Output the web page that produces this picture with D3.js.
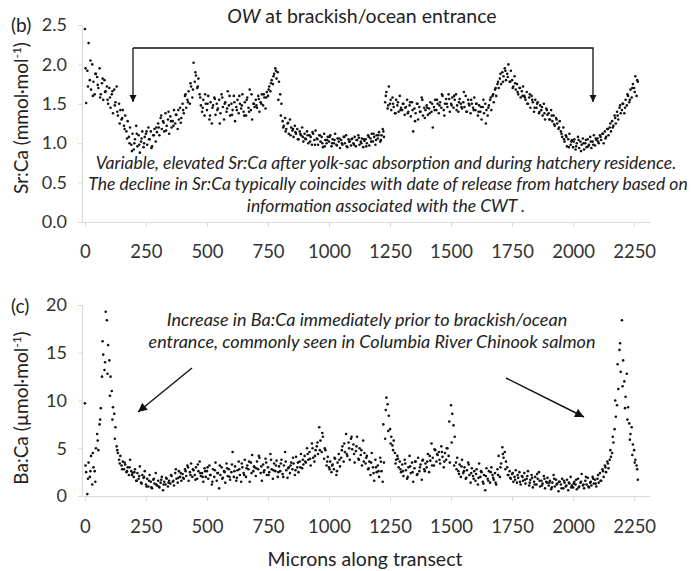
<!DOCTYPE html>
<html><head><meta charset="utf-8">
<script src="https://cdn.jsdelivr.net/npm/d3@7"></script>
<style>body{margin:0;background:#fff}text{font-family:Lato,"Open Sans",sans-serif}</style>
</head><body>
<svg id="c" width="694" height="571"></svg>
<script>
// Sample spacing along the transect (microns)
const sampleStep = 5;      // primary series: 0, 5, 10, ...
const sampleStep2 = 10;    // secondary replicate series: 2.5, 12.5, 22.5, ...
const sampleStart2 = 2.5;
const xTicks = [0,250,500,750,1000,1250,1500,1750,2000,2250];
const srTicks = [0,0.5,1.0,1.5,2.0,2.5];
const baTicks = [0,5,10,15,20];
// Sr:Ca (mmol/mol)
const srCa = [
2.45,1.51,1.92,2.27,1.8,1.68,2.0,1.78,1.62,1.88,
1.84,1.7,1.95,1.62,1.76,1.55,1.8,1.66,1.72,1.5,
1.7,1.45,1.62,1.38,1.68,1.52,1.72,1.35,1.5,1.42,
1.3,1.42,1.22,1.35,1.15,1.28,1.08,1.2,0.98,1.12,
0.92,1.05,1.22,0.96,1.1,0.88,1.02,1.15,0.95,1.08,
1.12,0.98,1.2,1.05,1.15,0.96,1.1,1.18,1.02,1.14,
1.25,1.1,1.32,1.18,1.28,1.15,1.38,1.22,1.3,1.12,
1.34,1.2,1.28,1.42,1.25,1.36,1.18,1.3,1.45,1.32,
1.5,1.38,1.6,1.45,1.55,1.66,1.5,1.72,1.58,2.02,
1.78,1.86,1.7,1.82,1.62,1.48,1.4,1.55,1.35,1.5,
1.42,1.6,1.3,1.52,1.25,1.48,1.58,1.36,1.5,1.44,
1.55,1.38,1.62,1.46,1.3,1.52,1.4,1.66,1.48,1.35,
1.5,1.42,1.6,1.28,1.46,1.55,1.38,1.5,1.44,1.62,
1.4,1.52,1.35,1.58,1.45,1.68,1.42,1.3,1.5,1.46,
1.55,1.45,1.6,1.4,1.52,1.62,1.48,1.58,1.44,1.65,
1.6,1.72,1.66,1.8,1.75,1.88,1.95,1.82,1.9,1.78,
1.62,1.5,1.28,1.22,1.32,1.18,1.25,1.12,1.3,1.2,
1.16,1.08,1.22,1.12,1.18,1.05,1.15,1.1,1.2,1.02,
1.12,1.05,1.15,1.0,1.1,1.08,0.98,1.12,1.04,1.16,
1.06,0.98,1.1,1.02,1.08,0.95,1.12,1.04,1.0,1.08,
1.02,1.1,0.96,1.05,1.0,1.12,0.98,1.06,1.02,0.94,
1.04,0.98,1.08,1.0,1.1,0.95,1.05,1.02,0.97,1.06,
1.0,1.08,0.96,1.04,1.1,0.98,1.02,1.06,0.95,1.03,
1.05,1.0,1.1,0.97,1.06,1.12,1.02,1.08,0.98,1.1,
1.06,1.14,1.02,1.1,1.18,1.08,1.52,1.65,1.44,1.72,
1.5,1.42,1.58,1.46,1.38,1.55,1.48,1.4,1.6,1.45,
1.42,1.5,1.36,1.46,1.55,1.4,1.48,1.34,1.52,1.15,
1.44,1.38,1.5,1.3,1.46,1.4,1.58,1.35,1.45,1.42,
1.48,1.36,1.44,1.52,1.4,1.2,1.46,1.55,1.42,1.5,
1.38,1.52,1.45,1.6,1.42,1.5,1.56,1.46,1.62,1.4,
1.5,1.58,1.45,1.55,1.62,1.48,1.4,1.56,1.5,1.44,
1.52,1.46,1.6,1.4,1.55,1.48,1.38,1.5,1.45,1.58,
1.42,1.5,1.35,1.48,1.4,1.3,1.46,1.38,1.5,1.42,
1.35,1.48,1.55,1.42,1.6,1.52,1.68,1.6,1.75,1.7,
1.82,1.75,1.9,1.85,1.95,1.8,1.88,2.0,1.78,1.92,
1.8,1.72,1.85,1.68,1.75,1.62,1.7,1.58,1.66,1.72,
1.6,1.55,1.65,1.5,1.58,1.45,1.6,1.52,1.4,1.55,
1.45,1.52,1.38,1.48,1.42,1.35,1.5,1.3,1.44,1.36,
1.38,1.3,1.42,1.28,1.35,1.22,1.32,1.25,1.18,1.28,
1.15,1.08,1.2,1.02,1.1,0.96,1.05,1.12,0.98,1.04,
0.95,1.05,0.92,1.0,1.08,0.94,1.02,0.98,1.06,0.92,
1.0,0.95,1.05,0.98,1.08,0.94,1.02,1.1,0.97,1.04,
1.06,1.0,1.1,1.04,1.12,1.0,1.15,1.08,1.18,1.1,
1.2,1.15,1.28,1.22,1.35,1.25,1.4,1.3,1.45,1.38,
1.42,1.5,1.38,1.55,1.48,1.6,1.52,1.68,1.58,1.75,
1.7,1.85,1.6,1.78];
const srCa2 = [
1.95,1.72,2.05,1.6,1.88,1.74,1.58,1.82,1.65,1.55,
1.58,1.66,1.48,1.4,1.25,1.32,1.18,1.06,1.0,0.9,
1.0,1.12,0.98,1.06,1.0,1.15,1.05,0.94,1.1,1.2,
1.2,1.35,1.26,1.16,1.4,1.28,1.22,1.36,1.42,1.26,
1.42,1.62,1.52,1.76,1.68,1.9,1.72,1.58,1.45,1.62,
1.5,1.35,1.45,1.56,1.42,1.25,1.58,1.5,1.44,1.6,
1.36,1.52,1.42,1.6,1.48,1.35,1.55,1.4,1.62,1.5,
1.48,1.56,1.5,1.62,1.58,1.68,1.76,1.85,1.92,1.55,
1.35,1.2,1.15,1.26,1.1,1.18,1.14,1.05,1.12,1.08,
1.06,1.1,1.02,1.14,0.98,1.05,1.1,1.0,0.96,1.04,
1.08,1.0,1.04,0.97,1.06,1.0,1.08,0.96,1.02,1.05,
0.98,1.04,1.07,1.0,1.05,0.96,1.08,1.02,1.12,1.04,
1.1,1.04,1.15,1.6,1.48,1.55,1.5,1.38,1.52,1.42,
1.5,1.45,1.38,1.52,1.42,1.28,1.5,1.4,1.55,1.32,
1.45,1.38,1.5,1.42,1.55,1.48,1.62,1.35,1.5,1.56,
1.48,1.6,1.42,1.52,1.46,1.65,1.4,1.5,1.55,1.42,
1.5,1.4,1.46,1.55,1.25,1.45,1.58,1.62,1.7,1.78,
1.88,1.78,1.92,1.84,1.78,1.7,1.76,1.65,1.7,1.6,
1.58,1.5,1.62,1.55,1.45,1.5,1.4,1.46,1.38,1.42,
1.3,1.35,1.24,1.3,1.2,1.12,1.05,1.08,0.95,1.02,
1.02,0.96,1.04,0.9,1.0,1.04,0.96,1.02,0.98,1.06,
1.02,1.08,1.12,1.06,1.18,1.25,1.2,1.32,1.35,1.48,
1.5,1.45,1.62,1.55,1.7,1.65,1.8];
// Ba:Ca (umol/mol)
const baCa = [
9.7,2.5,0.2,3.5,2.0,4.2,1.2,3.0,2.6,5.0,
6.5,4.8,7.5,9.2,12.5,14.8,13.2,19.3,18.4,15.8,
14.2,12.5,11.0,9.3,8.6,7.2,5.2,4.5,3.8,4.2,
3.2,3.6,2.8,3.3,2.5,3.0,2.2,3.8,2.6,2.4,
2.0,2.8,1.6,2.4,1.8,3.1,1.4,2.2,1.9,2.6,
1.2,1.8,1.0,2.2,1.5,0.8,1.7,1.3,2.4,1.1,
1.6,0.9,1.4,2.0,0.6,1.5,1.2,1.8,1.0,1.6,
1.3,2.1,1.5,1.1,2.4,1.8,1.4,2.6,2.0,1.6,
2.3,1.8,2.8,2.1,3.2,1.6,2.5,3.4,2.0,2.7,
2.2,3.0,1.8,2.6,3.6,2.1,2.4,1.5,2.9,2.0,
2.6,1.8,3.2,2.2,1.2,2.8,2.0,3.5,1.6,2.4,
0.8,2.2,3.0,1.9,2.6,1.4,3.4,2.1,2.8,1.7,
2.5,4.6,2.0,3.1,1.6,2.7,3.6,2.2,1.5,3.0,
2.4,3.8,2.0,3.2,2.8,1.5,3.5,4.3,2.6,3.0,
2.1,3.6,2.8,4.0,2.4,1.6,3.3,2.7,3.9,2.2,
3.0,2.5,4.4,2.8,1.8,3.4,2.6,3.7,2.0,3.1,
2.6,3.8,2.3,3.2,4.6,2.7,1.9,3.0,2.4,3.5,
2.8,3.4,2.2,4.1,3.0,2.5,3.6,4.4,2.9,3.3,
4.2,3.5,5.0,3.8,4.6,3.2,5.5,4.0,3.6,4.8,
5.2,4.4,7.2,5.8,4.6,6.2,3.9,4.8,3.2,4.1,
3.0,3.6,2.5,3.3,2.8,3.9,2.2,3.5,4.4,3.1,
4.0,5.2,3.6,4.6,6.5,4.2,5.6,3.8,6.0,4.9,
5.4,3.5,4.7,6.2,3.9,5.0,4.3,3.2,5.8,4.5,
3.4,4.2,2.8,3.6,2.2,4.5,3.0,1.6,3.8,2.5,
3.2,2.0,4.0,2.6,1.5,3.5,6.0,10.3,9.6,8.4,
7.0,6.2,5.3,5.8,4.5,3.8,4.2,3.0,3.6,2.5,
3.3,2.1,3.8,2.7,1.8,3.0,4.2,2.4,3.5,1.5,
2.9,3.6,2.2,4.0,2.6,3.3,1.7,3.8,2.8,3.4,
3.0,4.4,2.5,3.7,5.5,4.0,3.2,4.8,3.6,4.3,
4.6,3.4,5.2,4.1,3.0,4.5,3.8,5.0,4.2,3.5,
9.5,8.6,7.4,6.2,3.5,4.0,2.6,3.3,2.0,3.8,
2.4,3.0,1.8,2.7,3.5,2.2,1.4,2.9,2.1,2.6,
1.6,2.8,1.2,3.4,2.0,2.5,1.5,2.2,0.6,2.9,
1.8,2.6,1.4,3.0,2.2,1.7,2.4,1.2,2.8,4.2,
2.0,3.4,5.1,4.0,4.6,3.6,3.0,2.2,2.6,1.8,
2.3,1.5,2.0,2.7,1.4,1.9,2.5,1.2,2.1,1.6,
2.4,1.3,1.8,2.6,1.1,1.7,2.2,0.9,1.5,2.0,
1.2,1.8,2.5,1.0,1.6,1.3,2.1,0.8,1.5,1.9,
1.1,1.6,0.7,1.4,2.2,1.0,1.7,1.3,0.5,1.5,
1.2,1.8,0.8,1.4,1.0,1.7,0.6,1.3,2.0,1.1,
0.9,1.5,1.2,0.7,1.8,1.0,1.4,2.3,1.1,0.8,
1.6,1.2,1.9,0.9,1.4,1.1,2.0,1.3,1.7,1.0,
1.8,1.4,2.4,1.6,2.8,2.0,3.2,2.5,3.6,2.9,
3.8,4.1,4.5,5.6,7.0,8.3,9.5,11.2,15.3,13.0,
18.4,14.2,12.0,10.4,12.8,9.3,7.6,6.5,7.2,5.4,
4.8,3.8,3.2,1.7];
const baCa2 = [
3.2,1.8,2.6,4.5,1.5,5.8,8.0,16.2,14.0,12.8,
10.5,8.0,6.0,4.8,3.4,2.8,3.5,2.6,3.0,2.2,
2.5,1.6,2.1,1.3,2.0,1.0,1.6,0.9,1.8,1.2,
1.0,1.7,1.2,1.9,1.4,2.2,1.6,2.8,1.9,2.4,
1.9,2.6,3.0,2.2,2.8,1.7,3.3,2.4,2.0,2.6,
3.0,2.2,1.5,2.7,2.4,3.2,1.8,2.5,2.9,2.0,
3.3,2.6,1.9,2.8,3.4,2.2,2.9,3.6,2.4,3.1,
2.9,4.2,3.1,2.5,3.5,2.2,3.8,2.7,3.2,2.5,
3.4,2.0,3.6,2.9,3.2,4.0,2.7,3.5,3.0,3.8,
3.6,4.4,3.9,5.0,4.2,5.6,4.8,6.6,5.0,3.6,
2.8,3.2,4.0,2.6,3.8,4.8,5.5,4.4,5.0,6.2,
4.4,5.2,3.8,4.8,3.6,4.0,2.9,3.5,2.4,3.0,
2.6,3.6,7.5,9.0,6.8,5.5,4.8,3.4,3.9,2.8,
2.6,3.4,2.0,3.1,2.5,3.6,2.3,3.0,3.7,2.6,
3.6,4.2,3.2,4.9,4.4,3.8,4.6,3.6,5.0,7.8,
5.6,3.2,2.8,2.3,3.1,2.6,1.9,3.3,2.4,1.8,
2.3,1.9,2.6,1.3,2.1,1.6,2.5,1.9,1.4,2.2,
3.0,4.4,2.8,2.2,1.9,2.4,1.7,2.2,1.5,2.0,
1.7,2.1,1.4,1.9,1.2,2.3,1.6,1.1,1.8,1.4,
1.4,0.9,1.8,1.2,1.5,0.8,1.6,1.1,1.4,0.9,
1.3,1.7,0.9,1.5,1.2,2.0,1.0,1.5,1.8,1.3,
2.2,1.6,2.6,3.0,3.4,4.8,6.2,10.0,13.8,16.0,
11.5,9.2,8.0,5.9,4.3,3.5,2.8];

const svg = d3.select("#c");
svg.append("rect").attr("width",694).attr("height",571).attr("fill","#fff");
const x = d3.scaleLinear().domain([-12, 2315]).range([82, 650]);
const ySr = d3.scaleLinear().domain([0, 2.5]).range([222, 25]);
const yBa = d3.scaleLinear().domain([0, 20]).range([496, 305]);
const axisCol = "#d9d9d9", textCol = "#333";

const defs = svg.append("defs");
defs.append("marker").attr("id","ah").attr("viewBox","0 0 10 10").attr("refX",10).attr("refY",5)
  .attr("markerWidth",7).attr("markerHeight",8).attr("markerUnits","userSpaceOnUse").attr("orient","auto")
  .append("path").attr("d","M0,0L10,5L0,10z").attr("fill","#111");
defs.append("marker").attr("id","ah2").attr("viewBox","0 0 10 10").attr("refX",10).attr("refY",5)
  .attr("markerWidth",11).attr("markerHeight",9).attr("markerUnits","userSpaceOnUse").attr("orient","auto")
  .append("path").attr("d","M0,0L10,5L0,10z").attr("fill","#111");

function panel(y, ticks, fmt, vals, vals2, pad) {
  const g = svg.append("g");
  const xa = g.append("g").attr("transform",`translate(0,${y.range()[0]})`)
    .call(d3.axisBottom(x).tickValues(xTicks).tickSize(5).tickSizeOuter(0).tickPadding(pad).tickFormat(d3.format("d")));
  xa.select(".domain").attr("stroke",axisCol).attr("stroke-width",1.2);
  xa.selectAll(".tick line").attr("stroke",axisCol);
  xa.selectAll(".tick text").attr("fill",textCol).style("font-size","18.5px");
  const ya = g.append("g").attr("transform",`translate(82,0)`)
    .call(d3.axisLeft(y).tickValues(ticks).tickSize(4).tickSizeOuter(0).tickPadding(11).tickFormat(fmt));
  ya.select(".domain").attr("stroke",axisCol).attr("stroke-width",1.2);
  ya.selectAll(".tick line").attr("stroke",axisCol);
  ya.selectAll(".tick text").attr("fill",textCol).style("font-size","18px");
  const pts = vals.map((v,i)=>[i*sampleStep, v])
    .concat(vals2.map((v,i)=>[sampleStart2 + i*sampleStep2, v]));
  g.append("g").selectAll("circle").data(pts).join("circle")
    .attr("cx",d=>x(d[0])).attr("cy",d=>y(d[1])).attr("r",1.3).attr("fill","#111");
}
panel(ySr, srTicks, d3.format(".1f"), srCa, srCa2, 18);
panel(yBa, baTicks, d3.format("d"), baCa, baCa2, 19);

svg.append("text").attr("x",11).attr("y",32).attr("fill","#222").style("font-size","19px").text("(b)");
svg.append("text").attr("x",11).attr("y",313).attr("fill","#222").style("font-size","19px").text("(c)");

function ytitle(cx, cy, main) {
  const t = svg.append("text").attr("transform",`translate(${cx},${cy}) rotate(-90)`)
    .attr("text-anchor","middle").attr("fill","#222").style("font-size","19px");
  t.append("tspan").text(main);
  t.append("tspan").attr("dy",-7).style("font-size","12px").text("-1");
  t.append("tspan").attr("dy",7).text(")");
}
ytitle(28, 118, "Sr:Ca (mmol\u00b7mol");
ytitle(28, 408, "Ba:Ca (\u00b5mol\u00b7mol");

svg.append("text").attr("x",365).attr("y",566).attr("text-anchor","middle").attr("fill","#222")
  .style("font-size","19.5px").text("Microns along transect");

const tt = svg.append("text").attr("x",362).attr("y",23).attr("text-anchor","middle").attr("fill","#222").style("font-size","19.5px");
tt.append("tspan").style("font-style","italic").text("OW");
tt.append("tspan").text(" at brackish/ocean entrance");

svg.append("path").attr("d","M133,48L133,102").attr("stroke","#111").attr("stroke-width",1.3).attr("fill","none").attr("marker-end","url(#ah)");
svg.append("path").attr("d","M133,48L593,48L593,102").attr("stroke","#111").attr("stroke-width",1.3).attr("fill","none").attr("marker-end","url(#ah)");

const annB = [
  ["Variable, elevated Sr:Ca after yolk-sac absorption and during hatchery residence.", 386, 169],
  ["The decline in Sr:Ca typically coincides with date of release from hatchery based on", 388, 190],
  ["information associated with the CWT .", 386, 212]
];
annB.forEach(([s,cx,cy]) => svg.append("text").attr("x",cx).attr("y",cy).attr("text-anchor","middle")
  .attr("fill","#222").style("font-size","17.5px").style("font-style","italic").text(s));

const annC = [
  ["Increase in Ba:Ca immediately prior to brackish/ocean", 367, 326],
  ["entrance, commonly seen in Columbia River Chinook salmon", 372, 348]
];
annC.forEach(([s,cx,cy]) => svg.append("text").attr("x",cx).attr("y",cy).attr("text-anchor","middle")
  .attr("fill","#222").style("font-size","18px").style("font-style","italic").text(s));

svg.append("path").attr("d","M192,368L138,412").attr("stroke","#111").attr("stroke-width",1.4).attr("marker-end","url(#ah2)");
svg.append("path").attr("d","M506,378L584,417").attr("stroke","#111").attr("stroke-width",1.4).attr("marker-end","url(#ah2)");
</script>
</body></html>
